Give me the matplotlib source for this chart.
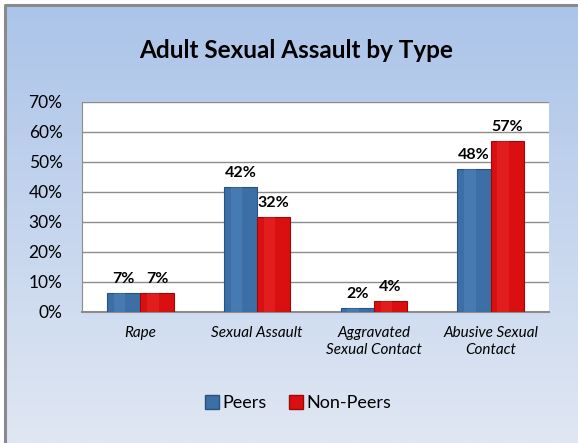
import numpy as np
import matplotlib
matplotlib.use("Agg")
import matplotlib.pyplot as plt
from matplotlib.patches import Rectangle

categories = ["Rape", "Sexual Assault", "Aggravated\nSexual Contact", "Abusive Sexual\nContact"]
peers = [6.5, 41.7, 1.5, 47.8]
non_peers = [6.5, 31.7, 3.6, 57.0]
peers_labels = ["7%", "42%", "2%", "48%"]
non_peers_labels = ["7%", "32%", "4%", "57%"]
yticks = [0, 10, 20, 30, 40, 50, 60, 70]
title = "Adult Sexual Assault by Type"
series_names = ["Peers", "Non-Peers"]

FONT = ["Lato", "DejaVu Sans"]
plt.rcParams["font.family"] = FONT

W, H = 578, 443
fig = plt.figure(figsize=(W / 100, H / 100), dpi=100)
fig.patch.set_facecolor("white")

# background gradient panel
bg = fig.add_axes([0, 0, 1, 1], zorder=-10)
grad = np.linspace(0, 1, 256).reshape(-1, 1)
top = np.array([171, 196, 233]) / 255
bot = np.array([224, 231, 243]) / 255
img = top[None, None, :] * (1 - grad[:, :, None]) + bot[None, None, :] * grad[:, :, None]
x0 = 5 / W
bg.imshow(img, extent=[x0, 1, 0, 1 - 5 / H], aspect="auto", origin="upper")
bg.set_xlim(0, 1)
bg.set_ylim(0, 1)
bg.plot([x0, x0, 1], [0, 1 - 5 / H, 1 - 5 / H], color="#8a8a8a", lw=2.2, solid_capstyle="butt")
bg.axis("off")

left, right = 82 / W, 549 / W
bottom, topy = (H - 312) / H, (H - 102) / H
ax = fig.add_axes([left, bottom, right - left, topy - bottom])
ax.set_facecolor("white")

x = np.arange(len(categories))
bw = 0.285
blue = "#3b6fa6"
blue_edge = "#2a527f"
red = "#d90f10"
red_edge = "#9a0a0a"

b1 = ax.bar(x - bw / 2, peers, bw, color=blue, edgecolor=blue_edge, linewidth=0.8, zorder=3)
b2 = ax.bar(x + bw / 2, non_peers, bw, color=red, edgecolor=red_edge, linewidth=0.8, zorder=3)

# subtle highlight on bars for a 3D look
for bars, hl in ((b1, "#5d8fc7"), (b2, "#f03a3a")):
    for r in bars:
        ax.add_patch(Rectangle((r.get_x() + r.get_width() * 0.2, 0), r.get_width() * 0.35, r.get_height(),
                               facecolor=hl, edgecolor="none", alpha=0.35, zorder=4))

for bars, labs in ((b1, peers_labels), (b2, non_peers_labels)):
    for r, lab in zip(bars, labs):
        ax.annotate(lab, (r.get_x() + r.get_width() / 2, r.get_height()),
                    xytext=(0, 5), textcoords="offset points", ha="center", va="bottom",
                    fontsize=11.5, fontweight="bold", color="black")

ax.set_xlim(-0.5, len(categories) - 0.5)
ax.set_ylim(0, 70)
ax.set_yticks(yticks)
ax.set_yticklabels([f"{t}%" for t in yticks], fontsize=12.5)
ax.yaxis.grid(True, color="#8c8c8c", linewidth=1.0, zorder=0)
ax.set_axisbelow(True)
ax.tick_params(axis="y", length=0, pad=14)
ax.set_xticks(x)
ax.set_xticklabels(categories, fontsize=11, fontstyle="italic", linespacing=1.3)
ax.tick_params(axis="x", length=0, pad=10)
for s in ("top", "right"):
    ax.spines[s].set_visible(False)
ax.spines["left"].set_color("#8c8c8c")
ax.spines["bottom"].set_color("#8c8c8c")
ax.spines["bottom"].set_linewidth(1.5)

fig.text(296 / W, 1 - 50 / H, title, ha="center", va="center", fontsize=17.5, fontweight="bold")

handles = [Rectangle((0, 0), 1, 1, facecolor=blue, edgecolor=blue_edge),
           Rectangle((0, 0), 1, 1, facecolor=red, edgecolor=red_edge)]
fig.legend(handles, series_names, loc="center", bbox_to_anchor=(298 / W, 1 - 403 / H),
           ncol=2, frameon=False, fontsize=13, handlelength=0.8, handleheight=0.8,
           handletextpad=0.2, columnspacing=1.2)

fig.savefig("out.png", dpi=100)
